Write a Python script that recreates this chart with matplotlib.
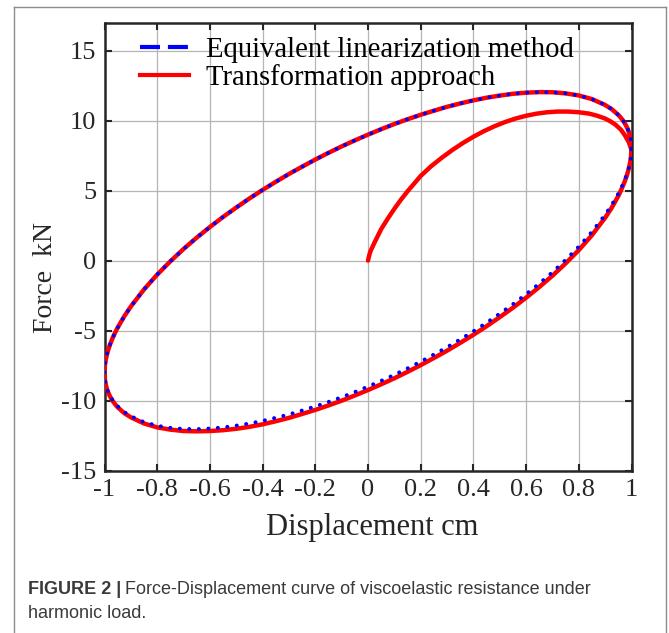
import matplotlib
matplotlib.use("Agg")
import matplotlib.pyplot as plt
from matplotlib.lines import Line2D

plt.rcParams['axes.unicode_minus'] = False

# equivalent linearization loop
# upper branch, listed from x=1 back to x=-1
up_x = [1.0, 0.998, 0.995, 0.99, 0.985, 0.98, 0.97, 0.96, 0.95, 0.925, 0.9, 0.85, 0.8, 0.75, 0.7, 0.65, 0.6, 0.55,
        0.5, 0.45, 0.4, 0.35, 0.3, 0.25, 0.2, 0.15, 0.1, 0.05, 0.0, -0.05, -0.1, -0.15, -0.2, -0.25, -0.3, -0.35,
        -0.4, -0.45, -0.5, -0.55, -0.6, -0.65, -0.7, -0.75, -0.8, -0.85, -0.9, -0.925, -0.95, -0.96, -0.97, -0.98,
        -0.985, -0.99, -0.995, -0.998, -1.0]
up_f = [8.0, 8.55, 8.85, 9.19, 9.43, 9.63, 9.95, 10.2, 10.41, 10.82, 11.12, 11.54, 11.8, 11.95, 12.03, 12.04, 12.0, 11.92,
        11.79, 11.64, 11.45, 11.23, 10.99, 10.71, 10.42, 10.1, 9.76, 9.39, 9.0, 8.59, 8.16, 7.7, 7.22, 6.71, 6.19, 5.63,
        5.05, 4.44, 3.79, 3.12, 2.4, 1.64, 0.83, -0.05, -1.0, -2.06, -3.28, -3.98, -4.79, -5.16, -5.57, -6.05,
        -6.33, -6.65, -7.06, -7.41, -8.0]
# lower branch, from x=-1 to x=1
lo_x = [-1.0, -0.998, -0.995, -0.99, -0.985, -0.98, -0.97, -0.96, -0.95, -0.925, -0.9, -0.85, -0.8, -0.75, -0.7, -0.65, -0.6, -0.55,
        -0.5, -0.45, -0.4, -0.35, -0.3, -0.25, -0.2, -0.15, -0.1, -0.05, 0.0, 0.05, 0.1, 0.15, 0.2, 0.25, 0.3, 0.35,
        0.4, 0.45, 0.5, 0.55, 0.6, 0.65, 0.7, 0.75, 0.8, 0.85, 0.9, 0.925, 0.95, 0.96, 0.97, 0.98,
        0.985, 0.99, 0.995, 0.998, 1.0]
lo_f = [-8.0, -8.55, -8.85, -9.19, -9.43, -9.63, -9.95, -10.2, -10.41, -10.82, -11.12, -11.54, -11.8, -11.95, -12.03, -12.04, -12.0, -11.92,
        -11.79, -11.64, -11.45, -11.23, -10.99, -10.71, -10.42, -10.1, -9.76, -9.39, -9.0, -8.59, -8.16, -7.7, -7.22, -6.71, -6.19, -5.63,
        -5.05, -4.44, -3.79, -3.12, -2.4, -1.64, -0.83, 0.05, 1.0, 2.06, 3.28, 3.98, 4.79, 5.16, 5.57, 6.05,
        6.33, 6.65, 7.06, 7.41, 8.0]

# transformation approach: start-up curve from the origin ...
tr_x = [0.0, 0.005, 0.01, 0.025, 0.05, 0.075, 0.1, 0.125, 0.15, 0.175, 0.2, 0.24, 0.28, 0.32, 0.36, 0.4, 0.44,
        0.48, 0.52, 0.56, 0.6, 0.64, 0.68, 0.72, 0.76, 0.8, 0.84, 0.87, 0.9, 0.92, 0.94, 0.96, 0.975, 0.99, 1.0]
tr_f = [0.0, 0.4, 0.7, 1.3, 2.25, 3.0, 3.7, 4.35, 4.95, 5.5, 6.05, 6.75, 7.35, 7.9, 8.4, 8.85, 9.25,
        9.6, 9.9, 10.15, 10.35, 10.5, 10.6, 10.65, 10.65, 10.6, 10.5, 10.35, 10.15, 9.95, 9.7, 9.35, 8.95, 8.45, 7.9]
# ... then the loop; its lower branch sits a little below the blue one
red_lo_f = [-8.0, -8.55, -8.87, -9.22, -9.46, -9.67, -10.0, -10.26, -10.48, -10.9, -11.2, -11.64, -11.92, -12.08, -12.18, -12.2, -12.18, -12.12,
            -12.02, -11.88, -11.7, -11.48, -11.24, -10.96, -10.67, -10.35, -10.01, -9.64, -9.25, -8.84, -8.41, -7.95, -7.47, -6.96, -6.44, -5.88,
            -5.3, -4.69, -4.04, -3.37, -2.65, -1.89, -1.08, -0.2, 0.75, 1.82, 3.06, 3.78, 4.62, 5.02, 5.45, 5.95,
            6.25, 6.6, 7.03, 7.4, 8.0]

red_x = tr_x + lo_x[::-1] + up_x[::-1]
red_f = tr_f + red_lo_f[::-1] + up_f[::-1]
blue_x = up_x + lo_x
blue_f = up_f + lo_f

xticks = [-1, -0.8, -0.6, -0.4, -0.2, 0, 0.2, 0.4, 0.6, 0.8, 1]
xticklabels = ['-1', '-0.8', '-0.6', '-0.4', '-0.2', '0', '0.2', '0.4', '0.6', '0.8', '1']
yticks = [-15, -10, -5, 0, 5, 10, 15]

W, H = 669, 633
fig = plt.figure(figsize=(W / 100, H / 100), dpi=100)
ax = fig.add_axes([104.5 / W, 1 - 470.5 / H, 527 / W, 447.8 / H])

serif = 'Liberation Serif'
ax.plot(red_x, red_f, color='#ff0000', lw=3.2, solid_capstyle='round',
        solid_joinstyle='round', zorder=3)
ax.plot(blue_x, blue_f, color='#0000ff', lw=2.8, linestyle=(0, (0.05, 2.4)),
        dash_capstyle='round', zorder=4)

ax.set_xlim(-1, 1)
ax.set_ylim(-15, 17)
ax.set_xticks(xticks)
ax.set_xticklabels(xticklabels)
ax.set_yticks(yticks)
ax.grid(True, color='#b5b5b5', lw=0.9)
ax.set_axisbelow(True)
ax.tick_params(direction='in', top=True, right=True, length=5, width=1.5,
               labelsize=19, pad=6, colors='#262626')
for lab in ax.get_xticklabels() + ax.get_yticklabels():
    lab.set_fontfamily(serif)
for s in ax.spines.values():
    s.set_linewidth(1.8)
    s.set_color('#262626')

ax.set_xlabel('Displacement cm', fontsize=22, family=serif, color='#262626')
ax.set_ylabel('Force  kN', fontsize=20, family=serif, color='#262626')
ax.xaxis.set_label_coords(0.508, -0.095)
ax.yaxis.set_label_coords(-0.088, 0.43)

handles = [Line2D([], [], color='#0000ff', lw=3, dashes=(4.8, 1.9)),
           Line2D([], [], color='#ff0000', lw=3)]
ax.legend(handles, ['Equivalent linearization method', 'Transformation approach'],
          loc='upper left', bbox_to_anchor=(0.04, 1.0), frameon=False,
          prop={'family': serif, 'size': 20.6}, handlelength=1.7,
          handletextpad=0.6, labelspacing=0.02, borderaxespad=0.1)

# outer frame of the figure panel (open at the bottom)
fc = '#8c8c8c'
fig.add_artist(Line2D([14 / W, 14 / W], [0, 1 - 7 / H], color=fc, lw=1))
fig.add_artist(Line2D([665.5 / W, 665.5 / W], [0, 1 - 7 / H], color=fc, lw=1))
fig.add_artist(Line2D([14 / W, 665.5 / W], [1 - 7 / H, 1 - 7 / H], color=fc, lw=1))

cap_font = 'Liberation Sans'
cap_size = 13
t = fig.text(28 / W, 1 - 590 / H, 'FIGURE 2 |', fontsize=cap_size, family=cap_font,
             fontweight='bold', color='#3a3a3a', va='center')
fig.canvas.draw()
bb = t.get_window_extent()
fig.text((bb.x1 + 4) / W, 1 - 590 / H,
         'Force-Displacement curve of viscoelastic resistance under',
         fontsize=cap_size, family=cap_font, color='#3a3a3a', va='center')
fig.text(28 / W, 1 - 613 / H, 'harmonic load.', fontsize=cap_size, family=cap_font,
         color='#3a3a3a', va='center')

fig.savefig('out.png', dpi=100)
